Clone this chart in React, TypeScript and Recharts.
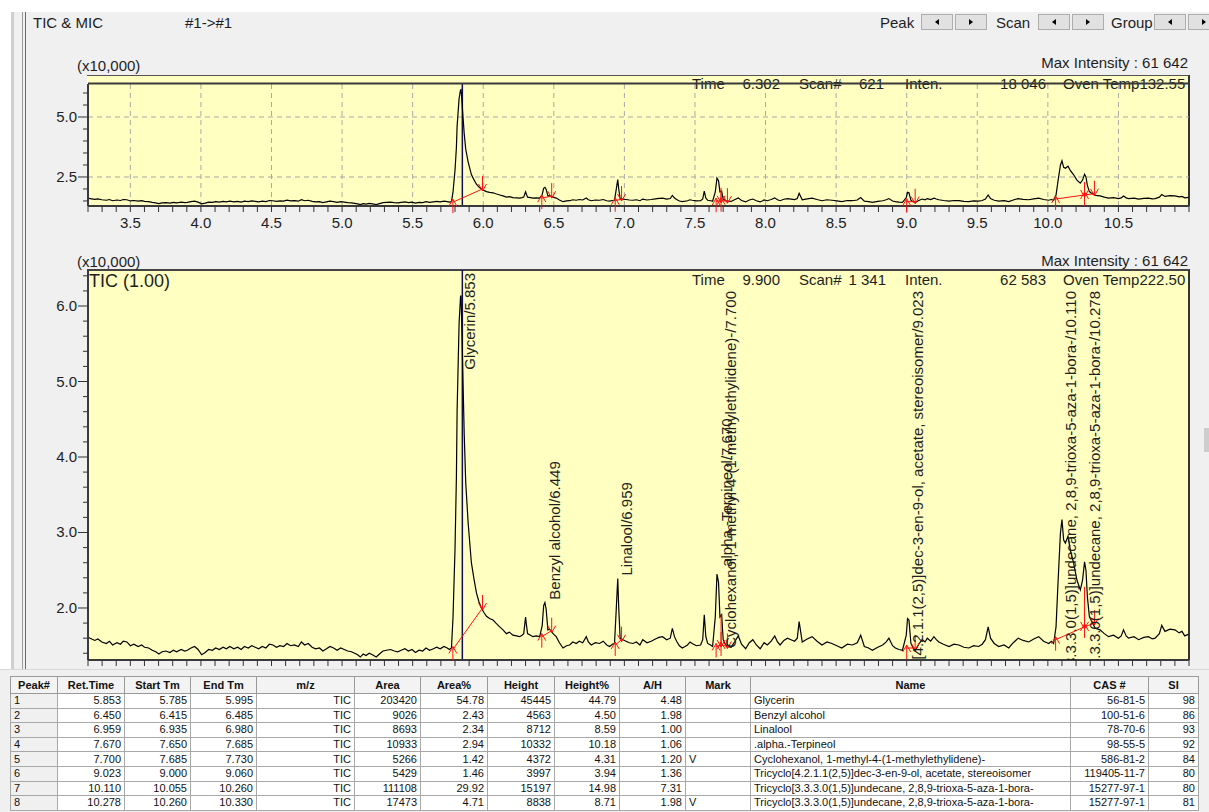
import React from 'react';
import { ComposedChart, Line, XAxis, YAxis, ReferenceLine, ReferenceDot } from 'recharts';

// retention time (min) of the sampled points of the TIC trace
const scanTimes = [
  3.184, 3.215, 3.248, 3.270, 3.298, 3.330, 3.352, 3.374, 3.405, 3.430,
  3.450, 3.475, 3.500, 3.525, 3.555, 3.580, 3.601, 3.630, 3.655, 3.680,
  3.702, 3.725, 3.752, 3.780, 3.805, 3.828, 3.860, 3.885, 3.904, 3.930,
  3.955, 3.980, 4.005, 4.030, 4.055, 4.081, 4.105, 4.130, 4.157, 4.180,
  4.205, 4.233, 4.260, 4.285, 4.308, 4.335, 4.360, 4.385, 4.409, 4.435,
  4.460, 4.485, 4.510, 4.535, 4.560, 4.586, 4.610, 4.635, 4.662, 4.690,
  4.712, 4.735, 4.760, 4.788, 4.812, 4.840, 4.864, 4.890, 4.914, 4.940,
  4.965, 4.990, 5.015, 5.040, 5.066, 5.090, 5.110, 5.129, 5.150, 5.170,
  5.192, 5.215, 5.242, 5.265, 5.290, 5.315, 5.343, 5.370, 5.395, 5.419,
  5.445, 5.470, 5.495, 5.520, 5.545, 5.571, 5.595, 5.620, 5.647, 5.670,
  5.695, 5.722, 5.745, 5.760, 5.775, 5.786, 5.800, 5.810, 5.815, 5.829,
  5.839, 5.843, 5.850, 5.857, 5.865, 5.876, 5.893, 5.916, 5.935, 5.952,
  5.970, 5.987, 6.005, 6.023, 6.045, 6.070, 6.090, 6.117, 6.140, 6.164,
  6.185, 6.210, 6.235, 6.258, 6.275, 6.287, 6.295, 6.300, 6.306, 6.314,
  6.335, 6.352, 6.375, 6.400, 6.418, 6.428, 6.437, 6.446, 6.458, 6.470,
  6.482, 6.500, 6.517, 6.540, 6.565, 6.590, 6.612, 6.635, 6.659, 6.680,
  6.705, 6.730, 6.745, 6.765, 6.795, 6.824, 6.850, 6.875, 6.895, 6.915,
  6.930, 6.942, 6.953, 6.960, 6.970, 6.990, 7.012, 7.035, 7.060, 7.085,
  7.110, 7.130, 7.160, 7.190, 7.220, 7.245, 7.270, 7.300, 7.325, 7.340,
  7.355, 7.370, 7.390, 7.410, 7.430, 7.447, 7.465, 7.480, 7.510, 7.540,
  7.555, 7.566, 7.577, 7.590, 7.610, 7.625, 7.644, 7.656, 7.667, 7.677,
  7.689, 7.700, 7.715, 7.730, 7.756, 7.780, 7.807, 7.830, 7.859, 7.885,
  7.910, 7.935, 7.962, 7.990, 8.013, 8.040, 8.065, 8.085, 8.103, 8.130,
  8.155, 8.180, 8.206, 8.225, 8.238, 8.260, 8.295, 8.330, 8.365, 8.400,
  8.435, 8.470, 8.505, 8.540, 8.580, 8.615, 8.650, 8.674, 8.700, 8.730,
  8.757, 8.795, 8.830, 8.855, 8.874, 8.900, 8.920, 8.945, 8.970, 8.997,
  9.006, 9.016, 9.030, 9.045, 9.063, 9.085, 9.110, 9.130, 9.146, 9.170,
  9.193, 9.210, 9.228, 9.260, 9.300, 9.335, 9.370, 9.405, 9.440, 9.475,
  9.510, 9.535, 9.558, 9.577, 9.594, 9.620, 9.652, 9.690, 9.723, 9.755,
  9.790, 9.825, 9.865, 9.900, 9.935, 9.970, 10.006, 10.025, 10.041, 10.058,
  10.072, 10.089, 10.100, 10.112, 10.124, 10.143, 10.159, 10.183, 10.206, 10.230,
  10.246, 10.260, 10.270, 10.280, 10.294, 10.310, 10.336, 10.370, 10.400, 10.430,
  10.465, 10.500, 10.520, 10.536, 10.555, 10.572, 10.610, 10.643, 10.680, 10.713,
  10.740, 10.760, 10.790, 10.807, 10.830, 10.865, 10.900, 10.930, 10.950, 10.970,
  10.995,
];

// TIC intensity (x10,000) at each retention time above
const ticIntensity = [
  1.63, 1.60, 1.57, 1.59, 1.55, 1.53, 1.56, 1.51, 1.54, 1.52,
  1.56, 1.55, 1.50, 1.52, 1.49, 1.51, 1.48, 1.47, 1.44, 1.42,
  1.39, 1.42, 1.43, 1.41, 1.44, 1.42, 1.45, 1.43, 1.44, 1.47,
  1.49, 1.45, 1.38, 1.41, 1.45, 1.44, 1.47, 1.45, 1.48, 1.46,
  1.49, 1.46, 1.48, 1.45, 1.49, 1.47, 1.50, 1.48, 1.46, 1.49,
  1.47, 1.52, 1.51, 1.48, 1.50, 1.49, 1.53, 1.50, 1.51, 1.49,
  1.55, 1.51, 1.53, 1.48, 1.46, 1.47, 1.43, 1.46, 1.49, 1.47,
  1.44, 1.47, 1.45, 1.43, 1.42, 1.40, 1.38, 1.35, 1.39, 1.37,
  1.40, 1.38, 1.35, 1.39, 1.43, 1.44, 1.45, 1.43, 1.42, 1.44,
  1.46, 1.43, 1.45, 1.41, 1.44, 1.43, 1.47, 1.44, 1.46, 1.48,
  1.46, 1.49, 1.47, 1.45, 1.47, 1.88, 2.77, 3.74, 4.62, 5.77,
  6.12, 6.14, 5.58, 4.98, 4.32, 3.66, 3.13, 2.60, 2.38, 2.20,
  2.08, 2.00, 1.94, 1.89, 1.86, 1.84, 1.80, 1.75, 1.71, 1.66,
  1.68, 1.64, 1.63, 1.62, 1.64, 1.66, 1.80, 1.88, 1.78, 1.66,
  1.64, 1.62, 1.63, 1.62, 1.77, 2.03, 2.07, 1.98, 1.71, 1.72,
  1.69, 1.65, 1.62, 1.54, 1.47, 1.50, 1.51, 1.55, 1.53, 1.56,
  1.54, 1.62, 1.55, 1.51, 1.54, 1.53, 1.56, 1.51, 1.49, 1.52,
  1.53, 1.97, 2.39, 2.00, 1.60, 1.58, 1.56, 1.54, 1.53, 1.55,
  1.51, 1.58, 1.54, 1.56, 1.59, 1.61, 1.62, 1.58, 1.60, 1.73,
  1.62, 1.56, 1.50, 1.47, 1.49, 1.51, 1.55, 1.53, 1.50, 1.51,
  1.58, 1.91, 1.62, 1.53, 1.51, 1.49, 1.88, 2.45, 2.34, 1.88,
  1.91, 1.58, 1.52, 1.49, 1.48, 1.55, 1.63, 1.52, 1.46, 1.54,
  1.58, 1.51, 1.46, 1.54, 1.51, 1.56, 1.63, 1.55, 1.51, 1.57,
  1.60, 1.58, 1.56, 1.60, 1.82, 1.55, 1.59, 1.62, 1.56, 1.51,
  1.55, 1.53, 1.50, 1.47, 1.52, 1.51, 1.54, 1.64, 1.49, 1.47,
  1.44, 1.48, 1.51, 1.55, 1.60, 1.50, 1.47, 1.45, 1.44, 1.64,
  1.86, 1.84, 1.53, 1.47, 1.44, 1.52, 1.58, 1.55, 1.60, 1.56,
  1.62, 1.58, 1.55, 1.52, 1.49, 1.52, 1.51, 1.48, 1.47, 1.50,
  1.49, 1.52, 1.58, 1.75, 1.60, 1.53, 1.49, 1.51, 1.47, 1.54,
  1.60, 1.57, 1.55, 1.59, 1.62, 1.56, 1.53, 1.56, 1.53, 1.75,
  2.33, 2.99, 3.17, 2.90, 2.86, 2.95, 2.77, 2.59, 2.37, 2.24,
  2.37, 2.61, 2.50, 2.15, 1.89, 1.82, 1.73, 1.71, 1.66, 1.62,
  1.64, 1.60, 1.63, 1.71, 1.63, 1.60, 1.62, 1.58, 1.61, 1.62,
  1.59, 1.60, 1.66, 1.77, 1.69, 1.72, 1.71, 1.67, 1.69, 1.63,
  1.65,
];

// peak table
const peakNo = [1, 2, 3, 4, 5, 6, 7, 8];
const retTime = [5.853, 6.450, 6.959, 7.670, 7.700, 9.023, 10.110, 10.278];
const startTm = [5.785, 6.415, 6.935, 7.650, 7.685, 9.000, 10.055, 10.260];
const endTm = [5.995, 6.485, 6.980, 7.685, 7.730, 9.060, 10.260, 10.330];
const area = [203420, 9026, 8693, 10933, 5266, 5429, 111108, 17473];
const areaPct = [54.78, 2.43, 2.34, 2.94, 1.42, 1.46, 29.92, 4.71];
const heightVal = [45445, 4563, 8712, 10332, 4372, 3997, 15197, 8838];
const heightPct = [44.79, 4.50, 8.59, 10.18, 4.31, 3.94, 14.98, 8.71];
const aOverH = [4.48, 1.98, 1.00, 1.06, 1.20, 1.36, 7.31, 1.98];
const marks = ['', '', '', '', 'V', '', '', 'V'];
const compoundNames = [
  'Glycerin',
  'Benzyl alcohol',
  'Linalool',
  '.alpha.-Terpineol',
  'Cyclohexanol, 1-methyl-4-(1-methylethylidene)-',
  'Tricyclo[4.2.1.1(2,5)]dec-3-en-9-ol, acetate, stereoisomer',
  'Tricyclo[3.3.3.0(1,5)]undecane, 2,8,9-trioxa-5-aza-1-bora-',
  'Tricyclo[3.3.3.0(1,5)]undecane, 2,8,9-trioxa-5-aza-1-bora-',
];
const casNo = ['56-81-5', '100-51-6', '78-70-6', '98-55-5', '586-81-2', '119405-11-7', '15277-97-1', '15277-97-1'];
const simIndex = [98, 86, 93, 92, 84, 80, 80, 81];

// labels written on the chromatogram
const peakLabels = [
  'Glycerin/5.853',
  'Benzyl alcohol/6.449',
  'Linalool/6.959',
  '.alpha.-Terpineol/7.670',
  'Cyclohexanol, 1-methyl-4-(1-methylethylidene)-/7.700',
  'Tricyclo[4.2.1.1(2,5)]dec-3-en-9-ol, acetate, stereoisomer/9.023',
  'Tricyclo[3.3.3.0(1,5)]undecane, 2,8,9-trioxa-5-aza-1-bora-/10.110',
  'Tricyclo[3.3.3.0(1,5)]undecane, 2,8,9-trioxa-5-aza-1-bora-/10.278',
];

// integration baseline ends (x10,000)
const baseStart = [1.45, 1.62, 1.51, 1.49, 1.51, 1.47, 1.58, 1.75];
const baseEnd = [2.00, 1.70, 1.58, 1.51, 1.49, 1.47, 1.75, 1.80];
// perpendicular drops between fused peaks
const dropTimes = [7.685, 10.26];
const dropBase = [1.51, 1.75];
const dropTop = [1.91, 2.28];

const cursorTime = 5.852;
const xMajor = [3.5, 4.0, 4.5, 5.0, 5.5, 6.0, 6.5, 7.0, 7.5, 8.0, 8.5, 9.0, 9.5, 10.0, 10.5];
const topYTicks = [1.5, 2.0, 2.5, 3.0, 3.5, 4.0, 4.5, 5.0, 5.5, 6.0];
const topYLabels = [2.5, 5.0];
const bottomYTicks = [1.4, 1.6, 1.8, 2.0, 2.2, 2.4, 2.6, 2.8, 3.0, 3.2, 3.4, 3.6, 3.8, 4.0, 4.2, 4.4, 4.6, 4.8, 5.0, 5.2, 5.4, 5.6, 5.8, 6.0, 6.2, 6.4];
const bottomYLabels = [2.0, 3.0, 4.0, 5.0, 6.0];

const FONT = "'Liberation Sans', Arial, Helvetica, sans-serif";
const YELLOW = '#ffffc1';
const INK = '#1e1e1e';
const AXIS = '#3a3a3a';
const RED = '#ff1010';
const PLOT_LEFT = 88;

const traceData = scanTimes.map((t, i) => ({ t, v: ticIntensity[i] }));

const xTicks: number[] = [];
for (let i = 32; i <= 110; i++) xTicks.push(i / 10);
const isMajorX = (v: number) => xMajor.some((m) => Math.abs(m - v) < 1e-6);

const apexOf = (s: number, e: number) =>
  Math.max(...traceData.filter((d) => d.t >= s - 0.002 && d.t <= e + 0.002).map((d) => d.v));

let measureCtx: CanvasRenderingContext2D | null = null;
function textWidth(s: string, size: number) {
  if (!measureCtx) measureCtx = document.createElement('canvas').getContext('2d');
  if (!measureCtx) return s.length * size * 0.5;
  measureCtx.font = `${size}px ${FONT}`;
  return measureCtx.measureText(s).width;
}

const makeYTick = (labels: number[]) => (p: any) => {
  const v = p.payload.value;
  const major = labels.some((l) => Math.abs(l - v) < 1e-6);
  return (
    <g>
      <line x1={PLOT_LEFT - (major ? 10 : 5)} x2={PLOT_LEFT} y1={p.y} y2={p.y} stroke="#333" />
      {major && (
        <text x={PLOT_LEFT - 11} y={p.y + 5} textAnchor="end" fontSize={15} fontFamily={FONT} fill={INK}>
          {v.toFixed(1)}
        </text>
      )}
    </g>
  );
};

// red integration marks
const startMark = (p: any) => (
  <g stroke={RED} fill="none" strokeWidth={1}>
    <line x1={p.cx} y1={p.cy - 3} x2={p.cx} y2={p.cy + 11} />
    <polyline points={`${p.cx - 4},${p.cy + 4} ${p.cx},${p.cy - 3} ${p.cx + 4},${p.cy + 4}`} />
  </g>
);
const endMark = (p: any) => (
  <g stroke={RED} fill="none" strokeWidth={1}>
    <line x1={p.cx} y1={p.cy - 13} x2={p.cx} y2={p.cy + 2} />
    <polyline points={`${p.cx - 4},${p.cy - 5} ${p.cx},${p.cy + 2} ${p.cx + 4},${p.cy - 5}`} />
  </g>
);

// vertical peak names, stacked up from the apex or hung from the top
const makePeakLabel = (text: string, idx: number) => (p: any) => {
  const x = p.cx + 13;
  const ceiling = p.cx < 680 ? 273 : 291;
  const len = textWidth(text, 15);
  const base = p.cy - 3;
  const fits = base - len >= ceiling;
  const y = fits ? base : ceiling;
  const id = `peak-label-clip-${idx}`;
  return (
    <g>
      <defs>
        <clipPath id={id}>
          <rect x={88} y={270} width={1101} height={390} />
        </clipPath>
      </defs>
      <g clipPath={`url(#${id})`}>
        <text x={x} y={y} transform={`rotate(-90 ${x} ${y})`} textAnchor={fits ? 'start' : 'end'} fontSize={15} fontFamily={FONT} fill={INK}>
          {text}
        </text>
      </g>
    </g>
  );
};

function integrationMarks() {
  const out: React.ReactNode[] = [];
  peakNo.forEach((_, i) => {
    out.push(
      <ReferenceLine key={`b${i}`} segment={[{ x: startTm[i], y: baseStart[i] }, { x: endTm[i], y: baseEnd[i] }]} stroke={RED} ifOverflow="visible" />,
      <ReferenceDot key={`s${i}`} x={startTm[i]} y={baseStart[i]} ifOverflow="visible" shape={startMark} />,
      <ReferenceDot key={`e${i}`} x={endTm[i]} y={baseEnd[i]} ifOverflow="visible" shape={endMark} />,
    );
  });
  dropTimes.forEach((t, i) => {
    out.push(<ReferenceLine key={`d${i}`} segment={[{ x: t, y: dropBase[i] }, { x: t, y: dropTop[i] }]} stroke={RED} ifOverflow="visible" />);
  });
  return out;
}

const xAxisProps = (withLabels: boolean) => ({
  dataKey: 't',
  type: 'number' as const,
  domain: [3.2, 11.0],
  allowDataOverflow: true,
  ticks: xTicks,
  interval: 0,
  tickFormatter: (v: number) => (withLabels && isMajorX(v) ? v.toFixed(1) : ''),
  tick: { fontSize: 15, fill: INK, fontFamily: FONT },
  tickSize: 6,
  tickMargin: 5,
  tickLine: { stroke: '#333' },
  axisLine: { stroke: AXIS, strokeWidth: 2 },
  height: 30,
});

function TopPanel() {
  return (
    <ComposedChart width={1209} height={240} data={traceData} margin={{ top: 84, right: 20, bottom: 4, left: 0 }} style={{ position: 'absolute', left: 0, top: 0 }}>
      <XAxis {...xAxisProps(true)} />
      <YAxis type="number" domain={[1.29, 6.375]} allowDataOverflow ticks={topYTicks} interval={0} width={88} tickLine={false} tick={makeYTick(topYLabels)} axisLine={{ stroke: AXIS, strokeWidth: 2 }} />
      {xMajor.map((x) => (
        <ReferenceLine key={`gx${x}`} x={x} stroke="#a9a9a9" strokeDasharray="5 4" />
      ))}
      {topYLabels.map((y) => (
        <ReferenceLine key={`gy${y}`} y={y} stroke="#a9a9a9" strokeDasharray="5 4" />
      ))}
      <ReferenceLine x={cursorTime} stroke="#10105a" strokeWidth={1.5} />
      <Line dataKey="v" stroke="#000" strokeWidth={1.2} dot={false} isAnimationActive={false} />
      {integrationMarks()}
    </ComposedChart>
  );
}

function BottomPanel() {
  return (
    <ComposedChart width={1209} height={700} data={traceData} margin={{ top: 270, right: 20, bottom: 10, left: 0 }} style={{ position: 'absolute', left: 0, top: 0 }}>
      <XAxis {...xAxisProps(false)} />
      <YAxis type="number" domain={[1.311, 6.477]} allowDataOverflow ticks={bottomYTicks} interval={0} width={88} tickLine={false} tick={makeYTick(bottomYLabels)} axisLine={{ stroke: AXIS, strokeWidth: 2 }} />
      <ReferenceLine x={cursorTime} stroke="#10105a" strokeWidth={1.5} />
      <Line dataKey="v" stroke="#000" strokeWidth={1.2} dot={false} isAnimationActive={false} />
      {integrationMarks()}
      {peakNo.map((_, i) => (
        <ReferenceDot key={`l${i}`} x={retTime[i]} y={apexOf(startTm[i], endTm[i])} ifOverflow="visible" shape={makePeakLabel(peakLabels[i], i)} />
      ))}
    </ComposedChart>
  );
}

function NavButton({ left, dir }: { left: number; dir: 'l' | 'r' }) {
  return (
    <div style={{ position: 'absolute', left, top: 14, width: 32, height: 16, background: '#e1e1e1', border: '1px solid #adadad', boxSizing: 'border-box' }}>
      <div
        style={{
          position: 'absolute', left: 13, top: 4, width: 0, height: 0,
          borderTop: '3px solid transparent', borderBottom: '3px solid transparent',
          ...(dir === 'l' ? { borderRight: '4px solid #000' } : { borderLeft: '4px solid #000' }),
        }}
      />
    </div>
  );
}

function PeakTable() {
  const widths = [47, 67, 66, 66, 98, 66, 67, 67, 65, 66, 65, 320, 78, 50];
  const heads = ['Peak#', 'Ret.Time', 'Start Tm', 'End Tm', 'm/z', 'Area', 'Area%', 'Height', 'Height%', 'A/H', 'Mark', 'Name', 'CAS #', 'SI'];
  const th: React.CSSProperties = { border: '1px solid #9a9a9a', background: '#f3f3f3', fontWeight: 'bold', height: 16, padding: 0, textAlign: 'center', fontSize: 11 };
  const td: React.CSSProperties = { border: '1px solid #a8a8a8', background: '#fff', height: 13.6, padding: '0 3px', textAlign: 'right', whiteSpace: 'nowrap', overflow: 'hidden', fontSize: 11 };
  const left: React.CSSProperties = { ...td, textAlign: 'left' };
  return (
    <div style={{ position: 'absolute', left: 0, top: 669, width: 1209, height: 143, background: '#f0f0f0', borderTop: '1px solid #d8d8d8' }}>
      <table style={{ position: 'absolute', left: 10, top: 6, width: 1188, borderCollapse: 'collapse', tableLayout: 'fixed', fontFamily: FONT, color: '#111', lineHeight: '13px' }}>
        <colgroup>
          {widths.map((w, i) => (
            <col key={i} style={{ width: w }} />
          ))}
        </colgroup>
        <thead>
          <tr>
            {heads.map((h) => (
              <th key={h} style={th}>{h}</th>
            ))}
          </tr>
        </thead>
        <tbody>
          {peakNo.map((n, i) => (
            <tr key={n}>
              <td style={{ ...left, background: '#f0f0f0' }}>{n}</td>
              <td style={td}>{retTime[i].toFixed(3)}</td>
              <td style={td}>{startTm[i].toFixed(3)}</td>
              <td style={td}>{endTm[i].toFixed(3)}</td>
              <td style={td}>TIC</td>
              <td style={td}>{area[i]}</td>
              <td style={td}>{areaPct[i].toFixed(2)}</td>
              <td style={td}>{heightVal[i]}</td>
              <td style={td}>{heightPct[i].toFixed(2)}</td>
              <td style={td}>{aOverH[i].toFixed(2)}</td>
              <td style={left}>{marks[i]}</td>
              <td style={left}>{compoundNames[i]}</td>
              <td style={td}>{casNo[i]}</td>
              <td style={td}>{simIndex[i]}</td>
            </tr>
          ))}
        </tbody>
      </table>
    </div>
  );
}

export default function App() {
  const abs = (s: React.CSSProperties): React.CSSProperties => ({ position: 'absolute', ...s });
  return (
    <div style={abs({ left: 0, top: 0, width: 1209, height: 812, overflow: 'hidden', background: '#f0f0f0', fontFamily: FONT })}>
      {/* window chrome */}
      <div style={abs({ left: 0, top: 0, width: 1209, height: 12, background: '#fff' })} />
      <div style={abs({ left: 0, top: 0, width: 11, height: 812, background: '#fff' })} />
      <div style={abs({ left: 11, top: 12, width: 3, height: 800, background: '#cfcfcf' })} />
      <div style={abs({ left: 22, top: 12, width: 1, height: 800, background: '#9a9a9a' })} />
      <div style={abs({ left: 25, top: 12, width: 1, height: 800, background: '#6a6a6a' })} />
      <div style={abs({ left: 1204, top: 428, width: 5, height: 24, background: '#cdcdcd' })} />

      {/* plot frames */}
      <div style={abs({ left: 87, top: 75, width: 1103, height: 131, background: YELLOW, borderTop: '1px solid #555', borderRight: '2px solid #333', boxSizing: 'border-box' })} />
      <div style={abs({ left: 87, top: 269, width: 1103, height: 391, background: YELLOW, borderTop: '2px solid #444', borderRight: '2px solid #333', boxSizing: 'border-box' })} />

      <TopPanel />
      <BottomPanel />

      <svg width={1209} height={812} style={abs({ left: 0, top: 0, pointerEvents: 'none' })} fontFamily={FONT} fill={INK}>
        <text x={33} y={28} fontSize={15}>{'TIC & MIC'}</text>
        <text x={185} y={28} fontSize={15}>{'#1->#1'}</text>
        <text x={880} y={28} fontSize={15}>Peak</text>
        <text x={996} y={28} fontSize={15}>Scan</text>
        <text x={1111} y={28} fontSize={15}>Group</text>

        <text x={77} y={71} fontSize={15}>(x10,000)</text>
        <text x={1188} y={68} fontSize={15} textAnchor="end">Max Intensity :  61 642</text>
        <g fontSize={15}>
          <text x={692} y={89}>Time</text>
          <text x={780} y={89} textAnchor="end">6.302</text>
          <text x={799} y={89}>Scan#</text>
          <text x={884} y={89} textAnchor="end">621</text>
          <text x={905} y={89}>Inten.</text>
          <text x={1046} y={89} textAnchor="end">18 046</text>
          <text x={1063} y={89}>Oven Temp132.55</text>
        </g>
        <line x1={88} x2={1189} y1={83.5} y2={83.5} stroke={AXIS} strokeWidth={2} />

        <text x={77} y={267} fontSize={15}>(x10,000)</text>
        <text x={1188} y={266} fontSize={15} textAnchor="end">Max Intensity :  61 642</text>
        <text x={89} y={287} fontSize={18}>TIC (1.00)</text>
        <g fontSize={15}>
          <text x={692} y={285}>Time</text>
          <text x={780} y={285} textAnchor="end">9.900</text>
          <text x={799} y={285}>Scan#</text>
          <text x={886} y={285} textAnchor="end">1 341</text>
          <text x={905} y={285}>Inten.</text>
          <text x={1046} y={285} textAnchor="end">62 583</text>
          <text x={1063} y={285}>Oven Temp222.50</text>
        </g>
      </svg>

      <NavButton left={921} dir="l" />
      <NavButton left={955} dir="r" />
      <NavButton left={1038} dir="l" />
      <NavButton left={1072} dir="r" />
      <NavButton left={1154} dir="l" />
      <NavButton left={1188} dir="r" />

      <PeakTable />
    </div>
  );
}
